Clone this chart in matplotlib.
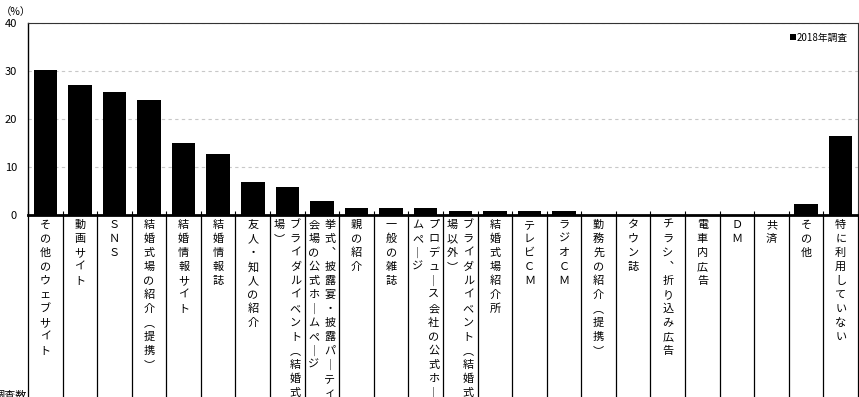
import matplotlib
matplotlib.use("Agg")
import matplotlib.pyplot as plt
import matplotlib.transforms as mtransforms

plt.rcParams['font.family'] = ['Noto Sans CJK JP', 'DejaVu Sans']

categories = [
    "その他のウェブサイト", "動画サイト", "ＳＮＳ", "結婚式場の紹介（提携）",
    "結婚情報サイト", "結婚情報誌", "友人・知人の紹介",
    "ブライダルイベント（結婚式場）",
    "挙式、披露宴・披露パーティ会場の公式ホームページ",
    "親の紹介", "一般の雑誌", "プロデュース会社の公式ホームページ",
    "ブライダルイベント（結婚式場以外）", "結婚式場紹介所", "テレビＣＭ",
    "ラジオＣＭ", "勤務先の紹介（提携）", "タウン誌", "チラシ、折り込み広告",
    "電車内広告", "ＤＭ", "共済", "その他", "特に利用していない",
]
values_2018 = [30.2, 27.1, 25.7, 24.0, 15.0, 12.7, 6.8, 5.9, 2.9, 1.4, 1.4,
               1.4, 0.8, 0.8, 0.8, 0.8, 0.0, 0.0, 0.0, 0.0, 0.0, 0.0, 2.2, 16.4]
series_name = "2018年調査"
y_ticks = [0, 10, 20, 30, 40]

# vertical writing forms
VERT = {"ー": "｜", "（": "︵", "）": "︶", "、": "︑"}
WRAP = 13

fig = plt.figure(figsize=(8.59, 3.97), dpi=100)
W, H = 859, 397
ax = fig.add_axes([28 / W, (H - 215) / H, 830 / W, 192 / H])

x = list(range(len(categories)))
ax.bar(x, values_2018, width=0.68, color='black', label=series_name, zorder=3)

ax.set_xlim(-0.5, len(categories) - 0.5)
ax.set_ylim(0, 40)
ax.set_yticks(y_ticks)
ax.tick_params(axis='y', length=0, pad=8, labelsize=8)
ax.set_xticks([i - 0.5 for i in range(len(categories) + 1)])
ax.tick_params(axis='x', direction='in', length=3, width=0.8, labelbottom=False)
ax.grid(axis='y', color='#c8c8c8', linestyle=(0, (3, 3)), linewidth=0.8, zorder=0)
for s in ['top', 'right']:
    ax.spines[s].set_linewidth(0.8)
    ax.spines[s].set_color('#333333')
ax.spines['left'].set_linewidth(1.0)
ax.spines['bottom'].set_linewidth(2.0)
ax.spines['bottom'].set_zorder(4)

# table below the plot, cut by the image edge
trans = mtransforms.blended_transform_factory(ax.transData, ax.transAxes)
for b in range(len(categories) + 1):
    ax.plot([b - 0.5, b - 0.5], [0, -1.2], color='black', linewidth=0.9,
            transform=trans, clip_on=False)

step = 14 / 192
y0 = -10 / 192
col_off = 8 / 34.4
for i, name in enumerate(categories):
    cols = [name[k:k + WRAP] for k in range(0, len(name), WRAP)]
    n = len(cols)
    for c, col in enumerate(cols):
        if n == 1:
            xc = i
        else:
            xc = i + col_off if c == 0 else i - col_off
        for j, ch in enumerate(col):
            ax.text(xc, y0 - j * step, VERT.get(ch, ch), transform=trans,
                    ha='center', va='center', fontsize=8, clip_on=False)

ax.legend(loc='upper right', frameon=False, fontsize=7, handlelength=0.6,
          handleheight=0.6, handletextpad=0.15, borderaxespad=0.6)

fig.text(16 / W, 1 - 12 / H, "（%）", ha='center', va='center', fontsize=7.5)
fig.text(27 / W, 1 - 391 / H, "調査数", ha='right', va='top', fontsize=8)

fig.savefig("out.png", dpi=100)
